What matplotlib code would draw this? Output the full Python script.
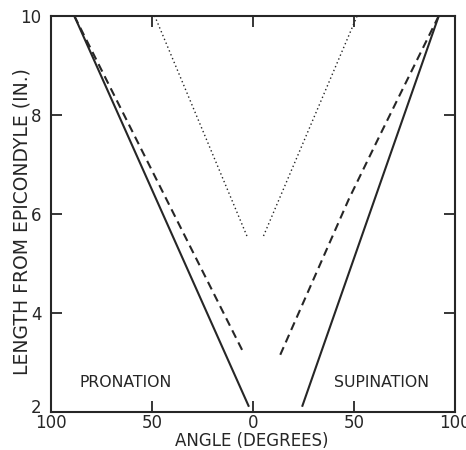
import matplotlib
matplotlib.use("Agg")
import matplotlib.pyplot as plt
import matplotlib.transforms as mtransforms

# Data (angle: negative = pronation, positive = supination)
solid_pro_x = [-88.5, -2.0]
solid_pro_y = [10.0, 2.1]
dash_pro_x = [-88.5, -4.8]
dash_pro_y = [10.0, 3.2]
dot_pro_x = [-48.7, -2.5]
dot_pro_y = [10.0, 5.5]

solid_sup_x = [24.3, 92.0]
solid_sup_y = [2.1, 10.0]
dash_sup_x = [13.5, 47.5, 63.0, 92.0]
dash_sup_y = [3.15, 6.3, 7.6, 10.0]
dot_sup_x = [5.2, 51.6]
dot_sup_y = [5.55, 10.0]

xticks = [-100, -50, 0, 50, 100]
xticklabels = ["100", "50", "0", "50", "100"]
yticks = [2, 4, 6, 8, 10]

plt.rcParams['font.family'] = ['DejaVu Sans']
ink = "#262626"

fig = plt.figure(figsize=(4.66, 4.5), dpi=100)
ax = fig.add_axes([0.1094, 0.0851, 0.8670, 0.880])

ax.plot(solid_pro_x, solid_pro_y, color=ink, lw=1.5, solid_capstyle='butt')
ax.plot(solid_sup_x, solid_sup_y, color=ink, lw=1.5, solid_capstyle='butt')
ax.plot(dash_pro_x, dash_pro_y, color=ink, lw=1.5, linestyle=(0, (4, 2.5)))
ax.plot(dash_sup_x, dash_sup_y, color=ink, lw=1.5, linestyle=(0, (4, 2.5)))
ax.plot(dot_pro_x, dot_pro_y, color=ink, lw=1.0, linestyle=(0, (1, 2)))
ax.plot(dot_sup_x, dot_sup_y, color=ink, lw=1.0, linestyle=(0, (1, 2)))

ax.set_xlim(-100, 100)
ax.set_ylim(2, 10)
ax.set_xticks(xticks)
ax.set_xticklabels(xticklabels)
ax.set_yticks(yticks)
ax.tick_params(direction='in', length=8, width=1.3, color=ink,
               top=True, right=True, labelsize=12, labelcolor=ink)
ax.tick_params(axis='y', pad=7)
ax.tick_params(axis='x', pad=2)
for s in ax.spines.values():
    s.set_linewidth(1.5)
    s.set_color(ink)

# lift the "2" label slightly so it sits above the corner "100"
lbl2 = ax.get_yticklabels()[0]
lbl2.set_transform(lbl2.get_transform() + mtransforms.ScaledTranslation(0, 4 / 72, fig.dpi_scale_trans))

ax.text(-63, 2.6, "PRONATION", ha='center', va='center', fontsize=11.3, color=ink)
ax.text(63.8, 2.6, "SUPINATION", ha='center', va='center', fontsize=11.3, color=ink)
ax.set_xlabel("ANGLE (DEGREES)", fontsize=12, color=ink)
ax.set_ylabel("LENGTH FROM EPICONDYLE (IN.)", fontsize=13.5, color=ink)
ax.xaxis.set_label_coords(0.4975, -0.074)
ax.yaxis.set_label_coords(-0.072, 0.479)
ax.xaxis.label.set_va('center')
ax.yaxis.label.set_va('center')

fig.savefig("out.png", dpi=100)
